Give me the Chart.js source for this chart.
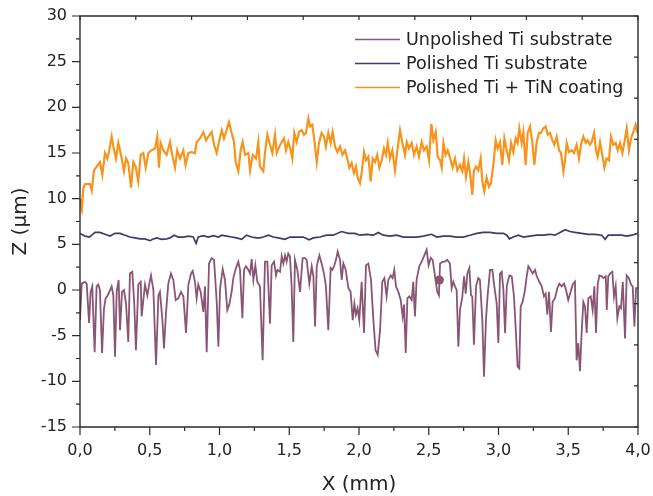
<!DOCTYPE html>
<html>
<head>
<meta charset="utf-8">
<script src="https://cdn.jsdelivr.net/npm/chart.js@4.4.0/dist/chart.umd.min.js"></script>
<style>
  html, body { margin: 0; padding: 0; background: #fff; }
  canvas { display: block; }
</style>
</head>
<body>
<canvas id="profile" width="653" height="496"></canvas>
<script>
// Surface profiles: height Z (µm) along scan position X (mm)
const seriesNames = ['Unpolished Ti substrate', 'Polished Ti substrate', 'Polished Ti + TiN coating'];

const unpolishedX = [0.000,0.012,0.036,0.048,0.065,0.076,0.088,0.105,0.119,0.131,0.143,0.158,0.172,0.184,0.198,0.210,0.227,0.239,0.251,0.263,0.277,0.287,0.301,0.315,0.330,0.346,0.358,0.375,0.389,0.401,0.418,0.435,0.442,0.454,0.466,0.483,0.497,0.509,0.526,0.545,0.562,0.573,0.590,0.602,0.616,0.633,0.652,0.669,0.686,0.705,0.724,0.741,0.760,0.777,0.796,0.808,0.824,0.836,0.848,0.865,0.884,0.896,0.908,0.925,0.944,0.961,0.980,0.992,1.004,1.023,1.039,1.056,1.070,1.087,1.099,1.118,1.135,1.147,1.164,1.176,1.190,1.207,1.219,1.231,1.243,1.257,1.271,1.290,1.309,1.326,1.343,1.362,1.374,1.391,1.405,1.415,1.434,1.446,1.458,1.470,1.481,1.493,1.505,1.517,1.529,1.541,1.558,1.577,1.596,1.613,1.625,1.644,1.661,1.673,1.685,1.697,1.716,1.732,1.749,1.763,1.780,1.797,1.809,1.821,1.835,1.847,1.864,1.876,1.888,1.905,1.924,1.940,1.955,1.967,1.978,1.990,2.002,2.019,2.036,2.050,2.067,2.086,2.103,2.119,2.134,2.151,2.167,2.182,2.198,2.210,2.227,2.241,2.253,2.265,2.282,2.299,2.313,2.323,2.335,2.347,2.361,2.378,2.389,2.401,2.413,2.432,2.449,2.466,2.485,2.499,2.514,2.528,2.545,2.561,2.573,2.581,2.600,2.616,2.633,2.652,2.664,2.676,2.688,2.700,2.712,2.724,2.741,2.753,2.765,2.777,2.791,2.803,2.812,2.824,2.839,2.855,2.867,2.884,2.896,2.910,2.922,2.939,2.956,2.970,2.987,2.999,3.011,3.023,3.035,3.047,3.059,3.078,3.095,3.111,3.125,3.137,3.149,3.159,3.173,3.190,3.202,3.214,3.231,3.245,3.262,3.274,3.293,3.310,3.326,3.338,3.350,3.362,3.376,3.388,3.405,3.422,3.436,3.453,3.470,3.484,3.500,3.517,3.532,3.548,3.560,3.572,3.584,3.596,3.608,3.620,3.632,3.644,3.661,3.675,3.687,3.699,3.711,3.723,3.740,3.752,3.769,3.776,3.787,3.799,3.816,3.828,3.840,3.852,3.866,3.878,3.891,3.907,3.919,3.935,3.950,3.962,3.974,3.986,3.998];
const unpolishedZ = [-3.3,0.7,0.9,0.7,-3.6,-0.2,0.4,-6.8,0.4,0.6,0.0,-6.9,-2.0,-0.9,-0.6,-0.2,0.4,-0.6,-7.3,-0.2,1.1,-4.4,-0.2,0.0,-1.5,-5.7,1.8,2.0,-1.5,-6.6,0.6,0.9,-2.9,-1.1,0.6,-0.6,0.7,1.6,0.0,-8.2,-0.6,-0.2,-3.1,-6.4,-2.6,0.7,1.8,1.1,-1.1,-0.9,-0.2,-0.7,-4.7,0.6,1.8,2.1,0.9,-0.9,0.6,-0.2,-2.4,0.4,-6.8,2.9,3.5,3.3,-1.3,-6.2,0.2,2.3,1.1,-2.2,-1.6,-0.2,1.3,2.4,3.1,2.2,-3.1,2.2,2.6,2.2,1.8,3.4,1.1,2.7,0.9,0.4,-7.7,3.1,3.1,-3.7,2.7,3.1,1.6,2.2,2.0,3.7,2.9,3.8,3.1,4.0,3.7,0.4,-5.7,3.3,2.2,-0.2,3.5,3.5,3.3,0.7,2.6,1.5,-4.0,2.6,3.8,2.9,1.8,0.4,-4.4,2.4,2.2,2.6,3.3,4.2,3.3,1.1,2.9,2.2,0.2,-0.2,-3.3,-1.5,-2.7,-2.0,-3.3,0.9,-4.7,2.7,2.9,1.1,-3.3,-6.6,-7.1,-4.4,0.9,1.3,-0.7,1.1,1.6,1.3,2.2,0.4,-0.2,-1.1,-2.9,-1.6,-6.9,-0.9,-0.7,-1.1,0.9,-2.9,1.1,2.6,3.1,3.7,4.4,2.7,3.5,3.3,1.5,-0.2,-0.6,2.9,3.1,3.1,3.3,2.9,0.2,0.9,0.4,0.0,-6.2,-2.2,-0.7,1.5,-0.4,1.8,2.4,-0.6,-0.7,-6.0,0.4,1.3,1.1,-3.3,-9.5,-3.3,-0.6,2.2,2.2,0.4,-1.5,-5.8,1.8,2.0,0.0,-4.7,0.4,1.6,1.5,-0.7,-4.7,-8.4,-8.6,-1.8,-1.3,0.0,1.5,2.6,2.2,1.8,2.2,1.5,0.9,0.4,-0.7,-0.4,-2.7,-0.2,-4.6,-1.3,-0.9,0.2,0.7,0.4,0.7,0.0,-1.1,-0.2,0.6,0.9,-7.7,-5.8,-8.9,-4.7,-1.3,-1.8,-4.7,-0.9,-0.7,-2.2,0.4,-4.7,0.6,1.6,1.5,1.3,1.5,-2.2,1.5,1.8,2.0,-0.7,0.4,-3.1,-1.8,-2.0,0.9,-5.3,1.6,1.3,0.6,0.4,-4.0,0.2,0.2];

// Single highlighted point on the unpolished profile
const markerX = [2.576];
const markerZ = [1.1];

const polishedX = [0.000,0.036,0.067,0.084,0.108,0.143,0.179,0.215,0.251,0.287,0.323,0.358,0.394,0.430,0.466,0.502,0.521,0.550,0.585,0.621,0.645,0.674,0.705,0.741,0.777,0.812,0.832,0.848,0.884,0.920,0.956,0.992,1.016,1.051,1.087,1.123,1.159,1.194,1.230,1.266,1.290,1.314,1.350,1.386,1.421,1.469,1.505,1.553,1.600,1.643,1.672,1.720,1.768,1.815,1.875,1.923,1.971,2.007,2.055,2.103,2.138,2.174,2.222,2.270,2.318,2.366,2.413,2.461,2.521,2.557,2.605,2.652,2.700,2.748,2.796,2.844,2.891,2.939,2.987,3.035,3.059,3.078,3.106,3.142,3.178,3.226,3.274,3.321,3.369,3.405,3.441,3.477,3.513,3.548,3.596,3.644,3.692,3.740,3.764,3.787,3.835,3.883,3.919,3.955,3.997];
const polishedZ = [6.2,5.9,5.8,6.0,6.3,6.3,6.1,5.9,6.2,6.2,6.0,5.8,5.7,5.6,5.6,5.4,5.55,5.7,5.55,5.6,5.7,6.0,5.8,5.8,5.9,5.8,5.1,5.8,5.95,5.8,5.95,5.8,6.0,5.9,5.8,5.7,5.55,6.0,5.8,5.7,5.7,5.8,6.0,5.8,5.7,5.55,5.8,5.8,5.8,5.5,5.7,5.8,6.0,6.0,6.4,6.2,6.2,6.0,6.1,6.0,6.3,6.0,5.9,6.0,5.8,5.8,5.8,5.9,6.1,5.8,5.9,5.9,5.8,5.8,6.0,6.2,6.3,6.3,6.2,6.2,6.0,5.6,5.8,6.0,5.8,5.9,6.0,6.0,6.1,6.0,6.3,6.6,6.4,6.3,6.2,6.1,6.1,6.0,5.55,6.0,6.0,6.0,5.9,6.0,6.2];

const coatedX = [0.000,0.005,0.013,0.024,0.036,0.072,0.084,0.100,0.119,0.143,0.160,0.179,0.196,0.210,0.227,0.239,0.258,0.275,0.287,0.299,0.315,0.330,0.346,0.366,0.382,0.399,0.418,0.435,0.454,0.471,0.490,0.514,0.538,0.554,0.566,0.578,0.597,0.621,0.645,0.657,0.681,0.697,0.717,0.741,0.757,0.777,0.800,0.824,0.836,0.860,0.884,0.903,0.920,0.944,0.961,0.980,0.999,1.016,1.032,1.051,1.068,1.087,1.104,1.116,1.135,1.152,1.166,1.183,1.207,1.219,1.238,1.262,1.278,1.290,1.314,1.326,1.343,1.362,1.379,1.398,1.410,1.429,1.446,1.462,1.477,1.493,1.510,1.522,1.536,1.553,1.570,1.589,1.606,1.620,1.637,1.649,1.665,1.680,1.697,1.713,1.732,1.749,1.763,1.780,1.797,1.811,1.828,1.845,1.864,1.881,1.900,1.916,1.931,1.947,1.964,1.978,1.990,2.007,2.019,2.036,2.050,2.067,2.084,2.098,2.115,2.131,2.146,2.163,2.179,2.194,2.206,2.222,2.239,2.258,2.275,2.294,2.311,2.330,2.342,2.358,2.378,2.394,2.413,2.430,2.449,2.466,2.485,2.502,2.519,2.533,2.550,2.564,2.581,2.593,2.605,2.621,2.636,2.652,2.671,2.688,2.705,2.724,2.741,2.753,2.767,2.784,2.796,2.812,2.824,2.839,2.855,2.872,2.884,2.898,2.915,2.932,2.946,2.963,2.980,2.994,3.011,3.027,3.042,3.059,3.075,3.090,3.106,3.123,3.137,3.149,3.166,3.178,3.195,3.209,3.226,3.243,3.257,3.274,3.290,3.305,3.321,3.338,3.353,3.369,3.386,3.400,3.417,3.434,3.448,3.465,3.477,3.489,3.505,3.525,3.541,3.560,3.577,3.591,3.608,3.625,3.639,3.656,3.668,3.685,3.699,3.711,3.728,3.744,3.759,3.775,3.792,3.806,3.823,3.840,3.855,3.871,3.888,3.903,3.919,3.935,3.950,3.967,3.983,3.997];
const coatedZ = [10.0,9.3,8.8,11.2,11.6,11.6,10.9,13.1,13.5,14.0,12.6,15.0,14.4,15.3,16.8,15.7,14.4,16.1,15.3,14.4,13.0,14.4,13.9,11.2,14.0,13.5,11.9,14.8,15.0,13.4,15.0,15.3,15.5,16.8,13.4,16.1,15.3,14.8,16.2,15.1,13.4,15.3,14.4,15.3,13.7,15.0,15.1,15.0,16.2,16.6,17.3,16.4,16.8,17.3,15.9,15.0,16.4,17.5,16.6,17.5,18.4,17.2,16.2,14.0,13.0,15.3,16.2,14.8,15.0,13.1,14.8,14.4,16.2,13.5,13.0,15.0,17.0,15.9,15.0,17.0,15.0,15.7,16.2,16.6,15.3,16.2,15.3,14.4,17.2,16.2,17.3,17.5,17.0,17.2,18.8,17.9,18.1,16.4,14.0,16.1,17.2,16.8,15.7,17.2,16.1,17.3,15.7,15.1,15.7,14.8,15.3,14.4,13.4,13.9,12.8,13.5,12.3,11.7,12.8,15.1,14.2,14.6,11.9,14.4,14.0,14.8,13.4,14.2,15.5,14.8,16.1,14.4,15.3,13.1,15.3,17.5,16.1,14.8,16.2,15.5,16.1,14.8,15.7,14.6,16.2,15.3,15.7,14.2,18.2,16.4,17.3,14.6,14.2,13.4,16.1,14.8,15.3,14.5,13.4,14.4,13.1,13.7,13.0,14.4,12.4,14.0,12.8,10.4,13.1,13.5,13.1,14.4,11.9,10.8,12.3,11.3,11.7,13.7,16.4,15.5,16.2,13.7,16.6,15.3,14.2,16.1,15.1,16.6,16.1,17.7,16.1,17.3,13.7,17.2,17.9,16.1,13.7,16.2,17.2,17.2,17.7,17.9,17.0,17.2,16.4,15.9,16.8,15.3,15.0,13.0,14.2,16.1,15.1,15.3,15.0,15.9,14.4,15.9,16.8,16.1,16.4,15.9,16.2,17.2,15.3,14.6,16.2,14.8,13.4,14.4,14.2,16.8,15.9,16.1,15.3,16.1,15.0,16.2,17.7,15.3,16.6,17.3,18.1,17.2];

// Axis ranges
const xMin = 0, xMax = 4, xStep = 0.5;
const yMin = -15, yMax = 30, yStep = 5;

const colors = ['#8a5574', '#3d3b6d', '#f7941e'];
const inkColor = '#222222';
const axisColor = '#2b2b2b';
const fontFamily = '"DejaVu Sans", "Liberation Sans", Arial, sans-serif';

const toPoints = (xs, zs) => xs.map((x, i) => ({ x: x, y: zs[i] }));

// Frame with tick marks on all four sides (outer major/minor on left & bottom, inner on top & right)
const framePlugin = {
  id: 'frame',
  afterDraw(chart) {
    const { ctx, chartArea: a, scales: { x, y } } = chart;
    ctx.save();
    ctx.strokeStyle = axisColor;
    ctx.lineWidth = 1.4;
    ctx.lineCap = 'square';
    ctx.beginPath();
    ctx.rect(a.left, a.top, a.right - a.left, a.bottom - a.top);
    ctx.stroke();
    ctx.lineCap = 'butt';
    ctx.lineWidth = 1.2;
    ctx.beginPath();
    // left axis: majors every 5, minors between
    for (let k = 0; k <= (yMax - yMin) / (yStep / 2); k++) {
      const v = yMin + k * yStep / 2;
      const p = y.getPixelForValue(v);
      const len = (k % 2 === 0) ? 8 : 4;
      ctx.moveTo(a.left - len, p); ctx.lineTo(a.left, p);
    }
    // bottom axis: majors every 0.5, minors between
    for (let k = 0; k <= (xMax - xMin) / (xStep / 2); k++) {
      const v = xMin + k * xStep / 2;
      const p = x.getPixelForValue(v);
      const len = (k % 2 === 0) ? 8 : 4;
      ctx.moveTo(p, a.bottom); ctx.lineTo(p, a.bottom + len);
    }
    // top axis: ten inner ticks
    for (let k = 0; k <= 10; k++) {
      const p = x.getPixelForValue(xMin + k * (xMax - xMin) / 10);
      ctx.moveTo(p, a.top); ctx.lineTo(p, a.top + 4);
    }
    // right axis: ten inner ticks
    for (let k = 0; k <= 10; k++) {
      const p = y.getPixelForValue(yMin + k * (yMax - yMin) / 10);
      ctx.moveTo(a.right, p); ctx.lineTo(a.right - 4, p);
    }
    ctx.stroke();
    ctx.restore();
  }
};

// Legend in the upper right corner of the plot area
const legendPlugin = {
  id: 'cornerLegend',
  afterDraw(chart) {
    const { ctx, chartArea: a } = chart;
    ctx.save();
    ctx.font = '17.5px ' + fontFamily;
    ctx.textBaseline = 'middle';
    ctx.textAlign = 'left';
    seriesNames.forEach((name, i) => {
      const yy = a.top + 23.5 + 24 * i;
      ctx.strokeStyle = colors[i];
      ctx.lineWidth = 1.5;
      ctx.beginPath();
      ctx.moveTo(a.right - 283, yy);
      ctx.lineTo(a.right - 238, yy);
      ctx.stroke();
      ctx.fillStyle = inkColor;
      ctx.fillText(name, a.right - 232, yy + 1);
    });
    ctx.restore();
  }
};

new Chart(document.getElementById('profile'), {
  type: 'line',
  data: {
    datasets: [
      {
        label: seriesNames[0],
        data: toPoints(unpolishedX, unpolishedZ),
        borderColor: colors[0],
        borderWidth: 1.8,
        pointRadius: 0,
        tension: 0
      },
      {
        label: seriesNames[1],
        data: toPoints(polishedX, polishedZ),
        borderColor: colors[1],
        borderWidth: 1.7,
        pointRadius: 0,
        tension: 0
      },
      {
        label: seriesNames[2],
        data: toPoints(coatedX, coatedZ),
        borderColor: colors[2],
        borderWidth: 2.2,
        pointRadius: 0,
        tension: 0
      },
      {
        label: 'marker',
        data: toPoints(markerX, markerZ),
        showLine: false,
        pointRadius: 4.5,
        pointBackgroundColor: colors[0],
        pointBorderColor: colors[0],
        pointBorderWidth: 0
      }
    ]
  },
  options: {
    responsive: false,
    animation: false,
    devicePixelRatio: 1,
    layout: { padding: { left: 0, right: 15, top: 16, bottom: 0 } },
    plugins: {
      legend: { display: false },
      tooltip: { enabled: false }
    },
    scales: {
      x: {
        type: 'linear',
        min: xMin,
        max: xMax,
        afterFit(scale) {
          scale.height = 69;
          scale.paddingLeft = 0;
          scale.paddingRight = 0;
        },
        grid: { display: false, drawTicks: false },
        border: { display: false },
        ticks: {
          stepSize: xStep,
          padding: 14,
          color: inkColor,
          font: { family: fontFamily, size: 16 },
          maxRotation: 0,
          callback: (v) => Number(v).toFixed(1).replace('.', ',')
        },
        title: {
          display: true,
          text: 'X (mm)',
          color: inkColor,
          font: { family: fontFamily, size: 20 },
          padding: { top: 0, bottom: -1 }
        }
      },
      y: {
        type: 'linear',
        min: yMin,
        max: yMax,
        afterFit(scale) {
          scale.width = 80;
          scale.paddingTop = 0;
          scale.paddingBottom = 0;
        },
        grid: { display: false, drawTicks: false },
        border: { display: false },
        ticks: {
          stepSize: yStep,
          padding: 13,
          color: inkColor,
          font: { family: fontFamily, size: 16 },
          callback: (v) => String(v)
        },
        title: {
          display: true,
          text: 'Z (µm)',
          color: inkColor,
          font: { family: fontFamily, size: 20 },
          padding: { top: 9, bottom: 0 }
        }
      }
    }
  },
  plugins: [framePlugin, legendPlugin]
});
</script>
</body>
</html>
